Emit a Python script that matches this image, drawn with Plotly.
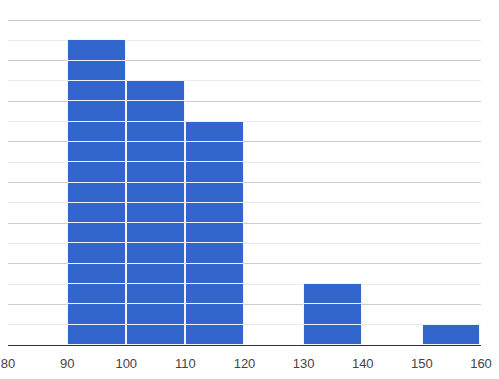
import plotly.graph_objects as go

# Histogram bins (lower edge) and item counts per bin
bin_starts = [90, 100, 110, 130, 150]
counts = [15, 13, 11, 3, 1]
bin_size = 10
x_ticks = [80, 90, 100, 110, 120, 130, 140, 150, 160]

xs, bases, ys = [], [], []
for start, c in zip(bin_starts, counts):
    for k in range(c):
        xs.append(start + bin_size / 2)
        bases.append(k)
        ys.append(1)

fig = go.Figure(go.Bar(
    x=xs, y=ys, base=bases, width=bin_size * 0.975,
    marker=dict(color="#3366cc", line=dict(color="rgba(255,255,255,0.85)", width=1)),
    hoverinfo="skip",
))

fig.update_layout(
    width=499, height=379,
    margin=dict(l=8, r=18, t=19, b=34),
    paper_bgcolor="white", plot_bgcolor="white",
    showlegend=False,
    bargap=0,
    font=dict(family="Liberation Sans, Arial", size=13, color="#444444"),
)
fig.update_xaxes(
    range=[80, 160], tickvals=x_ticks, showgrid=False, zeroline=False,
    showline=True, linecolor="#333333", linewidth=1, automargin=False,
    ticks="outside", ticklen=6, tickcolor="rgba(0,0,0,0)",
)
fig.update_yaxes(
    range=[0, 16.05], dtick=2, showticklabels=False, gridcolor="#cccccc", gridwidth=1,
    zeroline=False, automargin=False,
    minor=dict(dtick=1, showgrid=True, gridcolor="#ebebeb", gridwidth=1),
)

fig.write_html(
    "out.html",
    config={"displayModeBar": False},
    post_script="document.body.style.margin='0';document.body.style.overflow='hidden';",
)
